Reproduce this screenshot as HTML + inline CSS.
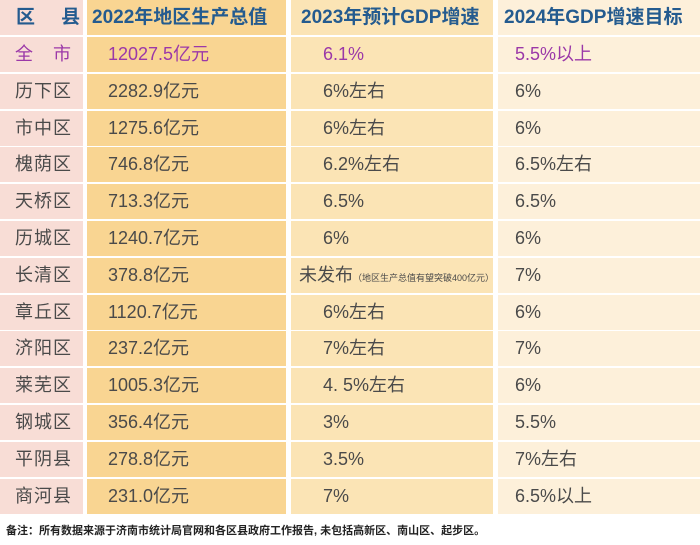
<!DOCTYPE html>
<html><head><meta charset="utf-8"><style>
html,body{margin:0;padding:0;width:700px;height:545px;background:#fff;overflow:hidden;font-family:"Liberation Sans","Noto Sans CJK SC",sans-serif;}
.tbl{position:absolute;left:0;top:0;width:700px;}
.row{position:absolute;left:0;width:700px;height:35px;}
.c{position:absolute;top:0;height:35px;line-height:35px;font-size:18px;color:#4a4a4a;white-space:nowrap;box-sizing:border-box;}
.c1{left:0;width:83px;background:#f8ddd6;padding-left:15px;letter-spacing:1px;}
.c2{left:87px;width:199px;background:#f9d592;padding-left:21px;}
.c3{left:291px;width:202px;background:#fbe4b5;padding-left:32px;}
.c4{left:498px;width:202px;background:#fdf0da;padding-left:17px;}
.hd .c{color:#245b8f;font-weight:bold;font-size:19px;}
.pu .c{color:#9b38a8;}
.note{position:absolute;left:6px;top:522px;font-size:11px;font-weight:bold;color:#222;}
small{font-size:9px;}
</style></head><body>
<div class="tbl">
<div class="row hd" style="top:0">
<div class="c c1" style="padding-left:16px">区&nbsp;&nbsp;&nbsp;&nbsp;县</div>
<div class="c c2" style="padding-left:5px">2022年地区生产总值</div>
<div class="c c3" style="padding-left:10px">2023年预计GDP增速</div>
<div class="c c4" style="padding-left:6px">2024年GDP增速目标</div>
</div>
<div id="body"></div>
</div>
<div class="note">备注：所有数据来源于济南市统计局官网和各区县政府工作报告, 未包括高新区、南山区、起步区。</div>
<script>
var districts=["全　市","历下区","市中区","槐荫区","天桥区","历城区","长清区","章丘区","济阳区","莱芜区","钢城区","平阴县","商河县"];
var gdp2022=["12027.5亿元","2282.9亿元","1275.6亿元","746.8亿元","713.3亿元","1240.7亿元","378.8亿元","1120.7亿元","237.2亿元","1005.3亿元","356.4亿元","278.8亿元","231.0亿元"];
var growth2023=["6.1%","6%左右","6%左右","6.2%左右","6.5%","6%","未发布<small>（地区生产总值有望突破400亿元）</small>","6%左右","7%左右","4. 5%左右","3%","3.5%","7%"];
var target2024=["5.5%以上","6%","6%","6.5%左右","6.5%","6%","7%","6%","7%","6%","5.5%","7%左右","6.5%以上"];
var body=document.getElementById('body');
for(var i=0;i<districts.length;i++){
  var r=document.createElement('div');
  r.className='row'+(i===0?' pu':'');
  r.style.top=(37+i*36.8)+'px';
  
  
  var vals=[districts[i],gdp2022[i],growth2023[i],target2024[i]];
  var names=['district','gdp-2022','growth-2023','target-2024'];
  for(var j=0;j<4;j++){
    var c=document.createElement('div');
    c.className='c c'+(j+1);
    if(j===2&&i===6)c.style.paddingLeft='8px';
    c.innerHTML=vals[j];
    
    
    r.appendChild(c);
  }
  body.appendChild(r);
}
</script>
</body></html>
